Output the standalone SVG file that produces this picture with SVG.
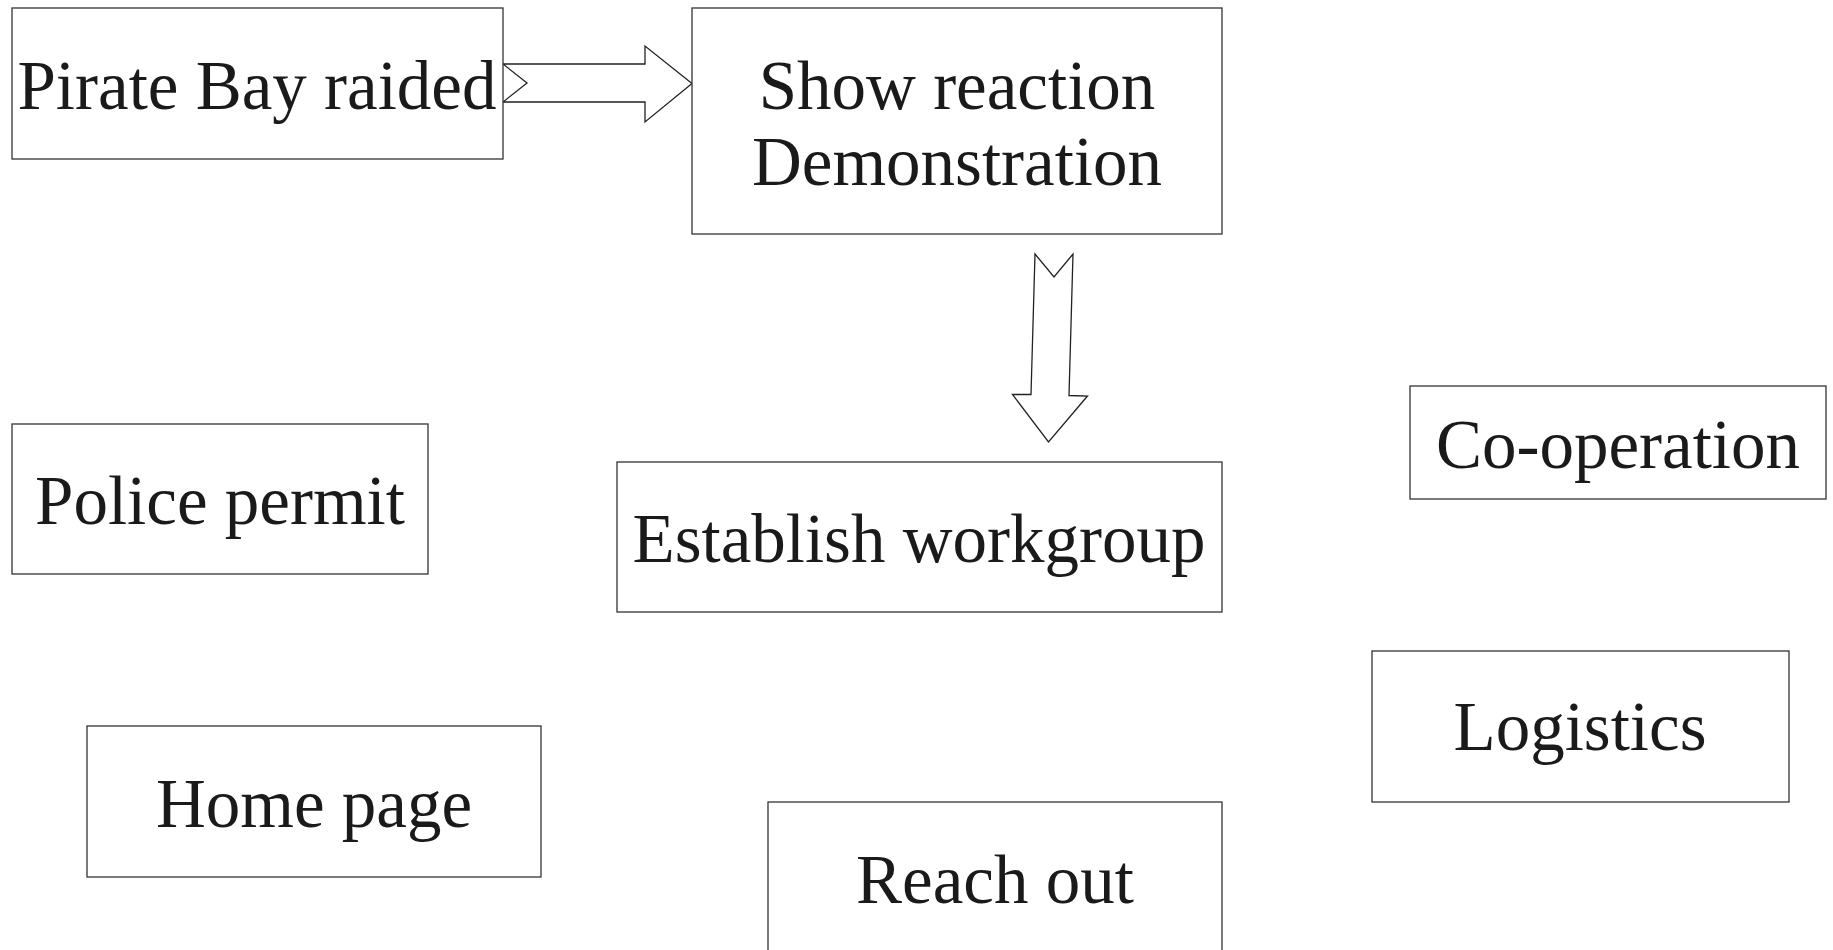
<svg xmlns="http://www.w3.org/2000/svg" width="1833" height="950" viewBox="0 0 1833 950">
<style>
.box{fill:#fff;stroke:#333;stroke-width:1.3}
.lbl{font-family:"Liberation Serif","Times New Roman",serif;font-size:69px;fill:#1a1a1a;text-anchor:middle}
.arr{fill:#fff;stroke:#222;stroke-width:1.3;stroke-linejoin:miter}
</style>
<rect width="1833" height="950" fill="#fff"/>
<g id="connectors">
<polygon class="arr" points="503,64 645,64 645,46 692,83.5 645,122 645,102 503,102 527,83"/>
<polygon class="arr" points="1035,254 1054,277 1073,254 1069,395.5 1087.5,396 1048.5,442 1012.5,394.5 1031,394.5"/>
</g>
<g id="n1"><rect class="box" x="12" y="8" width="491" height="151"/><text class="lbl" x="257" y="109">Pirate Bay raided</text></g>
<g id="n2"><rect class="box" x="692" y="8" width="530" height="226"/><text class="lbl" x="957" y="109">Show reaction</text><text class="lbl" x="957" y="185">Demonstration</text></g>
<g id="n3"><rect class="box" x="12" y="424" width="416" height="150"/><text class="lbl" x="220" y="524">Police permit</text></g>
<g id="n4"><rect class="box" x="617" y="462" width="605" height="150"/><text class="lbl" x="919" y="562">Establish workgroup</text></g>
<g id="n5"><rect class="box" x="1410" y="386" width="416" height="113"/><text class="lbl" x="1618" y="468">Co-operation</text></g>
<g id="n6"><rect class="box" x="1372" y="651" width="417" height="151"/><text class="lbl" x="1580" y="750">Logistics</text></g>
<g id="n7"><rect class="box" x="87" y="726" width="454" height="151"/><text class="lbl" x="314" y="827">Home page</text></g>
<g id="n8"><rect class="box" x="768" y="802" width="454" height="160"/><text class="lbl" x="995" y="903">Reach out</text></g>
</svg>
